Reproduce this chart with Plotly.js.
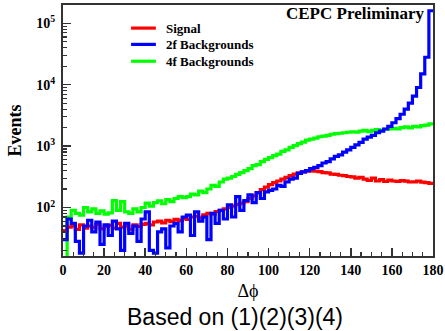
<!DOCTYPE html>
<html>
<head>
<meta charset="utf-8">
<script src="https://cdn.plot.ly/plotly-3.0.1.min.js"></script>
<style>
  html, body { margin: 0; padding: 0; background: #fff; }
  #chart { width: 445px; height: 331px; }
</style>
</head>
<body>
<div id="chart"></div>
<script>
// Δφ histograms, 90 bins of 2 degrees from 0 to 180
const binWidth = 2;
const phiMin = 0;

// Signal (ee -> ZH)
const signalCounts = [
  42, 48, 50, 44, 52, 46, 50, 47, 53, 45, 49, 51, 46, 55, 48, 50, 44, 52, 49, 53,
  55, 52, 58, 60, 56, 62, 59, 64, 61, 66,
  64, 70, 72, 68, 76, 80, 78, 86, 90, 95,
  100, 105, 112, 118, 125, 140, 155, 175, 195, 215,
  235, 255, 270, 290, 310, 330, 350, 365, 380, 390,
  395, 390, 385, 370, 365, 350, 345, 335, 330, 320,
  315, 300, 310, 290, 275, 300, 270, 285, 265, 280,
  270, 265, 275, 268, 260, 262, 270, 258, 255, 248
];

// 2-fermion backgrounds
const bkg2fCounts = [
  30, 65, 55, 28, 18, 50, 62, 40, 58, 25, 52, 35, 60, 45, 20, 55, 38, 50, 28, 65,
  85, 20, 18, 40, 45, 22, 50, 55, 40, 70,
  75, 35, 85, 60, 70, 30, 80, 55, 90, 65,
  110, 70, 150, 90, 130, 160, 120, 175, 140, 180,
  190, 200, 230, 220, 260, 290, 300, 360, 380, 400,
  430, 450, 480, 530, 560, 620, 680, 720, 800, 870,
  950, 1050, 1150, 1300, 1400, 1500, 1650, 1750, 1900, 2100,
  2400, 2800, 3300, 4000, 5000, 6500, 9000, 15000, 28000, 160000
];

// 4-fermion backgrounds
const bkg4fCounts = [
  12, 70, 90, 80, 75, 100, 85, 95, 80, 88, 78, 82, 130, 90, 125, 85, 80, 95, 85, 100,
  118, 105, 120, 128, 115, 135, 125, 140, 150, 145,
  150, 165, 160, 185, 175, 200, 230, 220, 260, 290,
  300, 320, 345, 370, 400, 430, 480, 500, 560, 610,
  650, 700, 740, 820, 870, 950, 1020, 1100, 1160, 1250,
  1300, 1350, 1420, 1450, 1500, 1560, 1600, 1620, 1650, 1680,
  1700, 1680, 1750, 1800, 1720, 1800, 1850, 1800, 1880, 1900,
  1950, 1900, 2000, 2050, 1980, 2100, 2050, 2150, 2200, 2300
];

const seriesNames = ['Signal', '2f Backgrounds', '4f Backgrounds'];
const seriesColors = ['#ff0000', '#0000ff', '#00ff00'];

const xTickVals = [0, 20, 40, 60, 80, 100, 120, 140, 160, 180];
const yTickVals = [100, 1000, 10000, 100000];
const yTickText = ['10<sup>2</sup>', '10<sup>3</sup>', '10<sup>4</sup>', '10<sup>5</sup>'];

// step outline: left edges of every bin plus the closing edge
function stepTrace(counts, name, color) {
  const x = counts.map((_, i) => phiMin + i * binWidth);
  x.push(phiMin + counts.length * binWidth);
  const y = counts.concat([counts[counts.length - 1]]);
  return {
    type: 'scatter', mode: 'lines', name: name, x: x, y: y,
    line: { color: color, width: 3.2, shape: 'hv' },
    showlegend: false, hoverinfo: 'skip'
  };
}

// minor ticks 2..9 within each decade
const yMinor = [];
for (let e = 1; e <= 5; e++) for (let d = 2; d <= 9; d++) yMinor.push(d * Math.pow(10, e));

const serif = 'Liberation Serif';
const frameColor = '#333';

// drawn back to front: 4f, signal, 2f
const traces = [
  stepTrace(bkg4fCounts, seriesNames[2], seriesColors[2]),
  stepTrace(signalCounts, seriesNames[0], seriesColors[0]),
  stepTrace(bkg2fCounts, seriesNames[1], seriesColors[1])
];

// legend box: short coloured line and bold label per row
const legendRows = [0.908, 0.843, 0.776];
const legendShapes = seriesNames.map((n, i) => ({
  type: 'line', xref: 'paper', yref: 'paper',
  x0: 0.184, x1: 0.251, y0: legendRows[i], y1: legendRows[i],
  line: { color: seriesColors[i], width: 3.2 }
}));
const legendLabels = seriesNames.map((n, i) => ({
  text: n, xref: 'paper', yref: 'paper', x: 0.272, y: legendRows[i],
  xanchor: 'left', yanchor: 'middle', showarrow: false,
  font: { family: serif, size: 13, color: '#000', weight: 'bold' }
}));

const layout = {
  width: 445, height: 331,
  margin: { l: 63, r: 12, t: 5, b: 75 },
  paper_bgcolor: '#fff', plot_bgcolor: '#fff',
  font: { family: serif, color: '#000' },
  showlegend: false,
  xaxis: {
    range: [0, 180], showgrid: false, zeroline: false,
    showline: true, linecolor: frameColor, linewidth: 2, mirror: true,
    ticks: 'inside', ticklen: 8, tickwidth: 1.5, tickcolor: frameColor,
    tickmode: 'array', tickvals: xTickVals,
    minor: { ticks: 'inside', ticklen: 4, tickwidth: 1.2, tickcolor: frameColor, dtick: 5, showgrid: false },
    tickfont: { family: serif, size: 14, color: '#000', weight: 'bold' },
    title: { text: 'Δϕ', font: { family: serif, size: 18, color: '#000' }, standoff: 8 }
  },
  yaxis: {
    type: 'log', range: [1.21, 5.298], showgrid: false, zeroline: false,
    showline: true, linecolor: frameColor, linewidth: 2, mirror: true,
    ticks: 'inside', ticklen: 8, tickwidth: 1.5, tickcolor: frameColor,
    tickmode: 'array', tickvals: yTickVals, ticktext: yTickText,
    minor: { ticks: 'inside', ticklen: 4, tickwidth: 1.2, tickcolor: frameColor, tickmode: 'array', tickvals: yMinor, showgrid: false },
    tickfont: { family: serif, size: 14, color: '#000', weight: 'bold' },
    ticklabelstandoff: 3,
    title: { text: 'Events', font: { family: serif, size: 18, color: '#000', weight: 'bold' }, standoff: 10 }
  },
  shapes: legendShapes,
  annotations: legendLabels.concat([
    {
      text: 'CEPC Preliminary', xref: 'paper', yref: 'paper',
      x: 0.984, y: 0.965, xanchor: 'right', yanchor: 'middle', showarrow: false,
      font: { family: serif, size: 17, color: '#000', weight: 'bold' }
    },
    {
      text: 'Based on (1)(2)(3)(4)', xref: 'paper', yref: 'paper',
      x: 0.465, y: -0.245, xanchor: 'center', yanchor: 'middle', showarrow: false,
      font: { family: 'Liberation Sans', size: 23, color: '#000' }
    }
  ])
};

Plotly.newPlot('chart', traces, layout, { displayModeBar: false, staticPlot: true });
</script>
</body>
</html>
